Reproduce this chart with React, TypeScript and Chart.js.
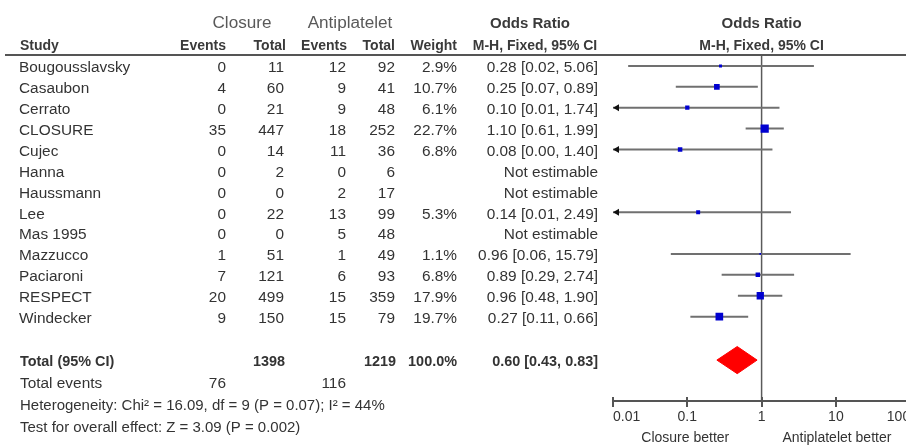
import React, { useEffect, useRef } from 'react';
import { Chart, registerables } from 'chart.js';

Chart.register(...registerables);

// ---------- data ----------
const studies = ['Bougousslavsky', 'Casaubon', 'Cerrato', 'CLOSURE', 'Cujec', 'Hanna', 'Haussmann', 'Lee', 'Mas 1995', 'Mazzucco', 'Paciaroni', 'RESPECT', 'Windecker'];
const closureEvents = [0, 4, 0, 35, 0, 0, 0, 0, 0, 1, 7, 20, 9];
const closureTotal = [11, 60, 21, 447, 14, 2, 0, 22, 0, 51, 121, 499, 150];
const antiEvents = [12, 9, 9, 18, 11, 0, 2, 13, 5, 1, 6, 15, 15];
const antiTotal = [92, 41, 48, 252, 36, 6, 17, 99, 48, 49, 93, 359, 79];
const weights: (number | null)[] = [2.9, 10.7, 6.1, 22.7, 6.8, null, null, 5.3, null, 1.1, 6.8, 17.9, 19.7];
const oddsRatio: (number | null)[] = [0.28, 0.25, 0.10, 1.10, 0.08, null, null, 0.14, null, 0.96, 0.89, 0.96, 0.27];
const ciLow: (number | null)[] = [0.016, 0.07, 0.01, 0.61, 0.00, null, null, 0.01, null, 0.06, 0.29, 0.48, 0.11];
const ciHigh: (number | null)[] = [5.06, 0.89, 1.74, 1.99, 1.40, null, null, 2.49, null, 15.79, 2.74, 1.90, 0.66];

const totalLabel = 'Total (95% CI)';
const totalClosure = 1398;
const totalAnti = 1219;
const totalWeightText = '100.0%';
const totalOrText = '0.60 [0.43, 0.83]';
const diamondOR = 0.47;
const diamondLow = 0.25;
const diamondHigh = 0.87;
const totalEventsClosure = 76;
const totalEventsAnti = 116;
const heterogeneityText = 'Heterogeneity: Chi\u00B2 = 16.09, df = 9 (P = 0.07); I\u00B2 = 44%';
const overallText = 'Test for overall effect: Z = 3.09 (P = 0.002)';
const xTicks = [0.01, 0.1, 1, 10, 100];
const favourLeft = 'Closure better';
const favourRight = 'Antiplatelet better';

// ---------- layout constants ----------
const X_MIN = 0.01;
const X_MAX = 100;
const ROW_PX = 21.2;
const Y_MIN = -61 / ROW_PX;
const Y_MAX = Y_MIN + 401 / ROW_PX;
const ROW_TOTAL = 14.08;
const ROW_TOTAL_EVENTS = 15.12;
const ROW_HET = 16.16;
const ROW_TEST = 17.2;
const ROW_HEAD1 = -2.15;
const ROW_HEAD2 = -1.06;
const ROW_RULE = -0.52;
const FONT = '"Liberation Sans", Arial, sans-serif';

function drawText(ctx: CanvasRenderingContext2D, s: string, x: number, y: number, align: CanvasTextAlign, font: string, color: string, sx = 1) {
  ctx.save();
  ctx.font = font;
  ctx.fillStyle = color;
  ctx.textBaseline = 'middle';
  ctx.textAlign = align;
  ctx.translate(x, y);
  ctx.scale(sx, 1);
  ctx.fillText(s, 0, 0);
  ctx.restore();
}

const tablePlugin = {
  id: 'forestTable',
  afterDraw(chart: any) {
    const ctx: CanvasRenderingContext2D = chart.ctx;
    const xs = chart.scales.x;
    const ys = chart.scales.y;
    const ty = (v: number) => ys.getPixelForValue(v) + 2.5;
    const body = `14px ${FONT}`;
    const bold = `bold 14px ${FONT}`;
    const textC = '#333333';
    const SX = 1.1;

    // header rule
    ctx.save();
    ctx.strokeStyle = '#555555';
    ctx.lineWidth = 2;
    ctx.beginPath();
    const ry = ys.getPixelForValue(ROW_RULE);
    ctx.moveTo(5, ry);
    ctx.lineTo(chart.width, ry);
    ctx.stroke();
    ctx.restore();

    // tick marks above axis
    ctx.save();
    ctx.strokeStyle = '#555555';
    ctx.lineWidth = 2;
    const ab = chart.chartArea.bottom;
    xs.ticks.forEach((t: any) => {
      const px = Math.round(xs.getPixelForValue(t.value));
      ctx.beginPath();
      ctx.moveTo(px, ab - 4);
      ctx.lineTo(px, ab);
      ctx.stroke();
    });
    ctx.restore();

    // headers
    const h1 = ty(ROW_HEAD1);
    const h2 = ty(ROW_HEAD2);
    drawText(ctx, 'Closure', 242, h1, 'center', `16px ${FONT}`, '#595959', 1.07);
    drawText(ctx, 'Antiplatelet', 350, h1, 'center', `16px ${FONT}`, '#595959', 1.07);
    drawText(ctx, 'Odds Ratio', 530, h1, 'center', `bold 15px ${FONT}`, '#3a3a3a');
    drawText(ctx, 'Odds Ratio', xs.getPixelForValue(1), h1, 'center', `bold 15px ${FONT}`, '#3a3a3a');
    drawText(ctx, 'Study', 20, h2, 'left', bold, '#3a3a3a');
    drawText(ctx, 'Events', 226, h2, 'right', bold, '#3a3a3a');
    drawText(ctx, 'Total', 286, h2, 'right', bold, '#3a3a3a');
    drawText(ctx, 'Events', 347, h2, 'right', bold, '#3a3a3a');
    drawText(ctx, 'Total', 395, h2, 'right', bold, '#3a3a3a');
    drawText(ctx, 'Weight', 457, h2, 'right', bold, '#3a3a3a');
    drawText(ctx, 'M-H, Fixed, 95% CI', 535, h2, 'center', bold, '#3a3a3a');
    drawText(ctx, 'M-H, Fixed, 95% CI', xs.getPixelForValue(1), h2, 'center', bold, '#3a3a3a');

    // study rows
    studies.forEach((s, i) => {
      const y = ty(i);
      drawText(ctx, s, 19, y, 'left', body, textC, SX);
      drawText(ctx, String(closureEvents[i]), 226, y, 'right', body, textC, SX);
      drawText(ctx, String(closureTotal[i]), 284, y, 'right', body, textC, SX);
      drawText(ctx, String(antiEvents[i]), 346, y, 'right', body, textC, SX);
      drawText(ctx, String(antiTotal[i]), 395, y, 'right', body, textC, SX);
      const w = weights[i];
      if (w != null) drawText(ctx, w.toFixed(1) + '%', 457, y, 'right', body, textC, SX);
      const or = oddsRatio[i];
      const lo = ciLow[i];
      const hi = ciHigh[i];
      const label = or == null || lo == null || hi == null ? 'Not estimable' : `${or.toFixed(2)} [${lo.toFixed(2)}, ${hi.toFixed(2)}]`;
      drawText(ctx, label, 598, y, 'right', body, textC, SX);

      // arrow for truncated CI
      if (lo != null && lo <= X_MIN) {
        const ax = xs.getPixelForValue(X_MIN);
        const ay = ys.getPixelForValue(i);
        ctx.save();
        ctx.fillStyle = '#111111';
        ctx.beginPath();
        ctx.moveTo(ax, ay);
        ctx.lineTo(ax + 6, ay - 3.5);
        ctx.lineTo(ax + 6, ay + 3.5);
        ctx.closePath();
        ctx.fill();
        ctx.restore();
      }
    });

    // total row
    const tyT = ty(ROW_TOTAL);
    drawText(ctx, totalLabel, 20, tyT, 'left', bold, textC, 1.03);
    drawText(ctx, String(totalClosure), 285, tyT, 'right', bold, textC, 1.03);
    drawText(ctx, String(totalAnti), 396, tyT, 'right', bold, textC, 1.03);
    drawText(ctx, totalWeightText, 457, tyT, 'right', bold, textC, 1.03);
    drawText(ctx, totalOrText, 598, tyT, 'right', bold, textC, 1.03);

    const tyE = ty(ROW_TOTAL_EVENTS);
    drawText(ctx, 'Total events', 20, tyE, 'left', body, textC, SX);
    drawText(ctx, String(totalEventsClosure), 226, tyE, 'right', body, textC, SX);
    drawText(ctx, String(totalEventsAnti), 346, tyE, 'right', body, textC, SX);
    drawText(ctx, heterogeneityText, 20, ty(ROW_HET), 'left', body, textC, 1.07);
    drawText(ctx, overallText, 20, ty(ROW_TEST), 'left', body, textC, 1.07);

    // favours labels
    const fy = 438;
    drawText(ctx, favourLeft, xs.getPixelForValue(0.1) - 2, fy, 'center', `14px ${FONT}`, textC);
    drawText(ctx, favourRight, xs.getPixelForValue(10) + 1, fy, 'center', `14px ${FONT}`, textC);
  },
};

export default function App() {
  const ref = useRef<HTMLCanvasElement | null>(null);

  useEffect(() => {
    if (!ref.current) return;
    const idx = studies.map((_, i) => i).filter((i) => oddsRatio[i] != null);

    const ciSets = idx.map((i) => ({
      data: [
        { x: Math.max(ciLow[i] as number, X_MIN), y: i },
        { x: ciHigh[i] as number, y: i },
      ],
      showLine: true,
      borderColor: '#707070',
      borderWidth: 2,
      pointRadius: 0,
      order: 2,
    }));

    const pointSet = {
      data: idx.map((i) => ({ x: oddsRatio[i] as number, y: i })),
      pointStyle: 'rect',
      pointRadius: idx.map((i) => 1.22 * Math.sqrt(weights[i] as number)),
      backgroundColor: '#0000d0',
      borderColor: '#0000d0',
      pointBorderWidth: 0,
      showLine: false,
      order: 0,
    };

    const diamondSet = {
      data: [
        { x: diamondLow, y: ROW_TOTAL },
        { x: diamondOR, y: ROW_TOTAL - 0.65 },
        { x: diamondHigh, y: ROW_TOTAL },
        { x: diamondOR, y: ROW_TOTAL + 0.65 },
        { x: diamondLow, y: ROW_TOTAL },
      ],
      showLine: true,
      fill: 'shape',
      backgroundColor: '#ff0000',
      borderColor: '#ff0000',
      borderWidth: 1,
      pointRadius: 0,
      tension: 0,
      order: 1,
    };

    const refLine = {
      data: [
        { x: 1, y: ROW_RULE },
        { x: 1, y: Y_MAX },
      ],
      showLine: true,
      borderColor: '#5a5a5a',
      borderWidth: 1.5,
      pointRadius: 0,
      order: 3,
    };

    const chart = new Chart(ref.current, {
      type: 'scatter',
      data: { datasets: [pointSet, diamondSet, ...ciSets, refLine] as any },
      options: {
        responsive: false,
        animation: false,
        devicePixelRatio: 1,
        layout: { padding: { left: 613, right: 0, top: 0, bottom: 0 } },
        plugins: { legend: { display: false }, tooltip: { enabled: false } },
        scales: {
          x: {
            type: 'logarithmic',
            min: X_MIN,
            max: X_MAX,
            position: 'bottom',
            afterBuildTicks: (s: any) => {
              s.ticks = xTicks.map((v) => ({ value: v }));
            },
            afterFit: (s: any) => {
              s.height = 47;
            },
            grid: { drawOnChartArea: false, drawTicks: true, tickLength: 6, color: '#555555', lineWidth: 2 },
            border: { display: true, color: '#555555', width: 2 },
            ticks: {
              align: 'inner',
              autoSkip: false,
              maxRotation: 0,
              padding: 2,
              color: '#333333',
              font: { family: FONT, size: 14 },
              callback: (v: any) => String(v),
            },
          } as any,
          y: { type: 'linear', display: false, reverse: true, min: Y_MIN, max: Y_MAX },
        },
      },
      plugins: [tablePlugin],
    });
    return () => chart.destroy();
  }, []);

  return (
    <div style={{ position: 'fixed', left: 0, top: 0, width: 906, height: 448, overflow: 'hidden', background: '#ffffff' }}>
      <canvas ref={ref} width={916} height={448} style={{ display: 'block' }} />
    </div>
  );
}
